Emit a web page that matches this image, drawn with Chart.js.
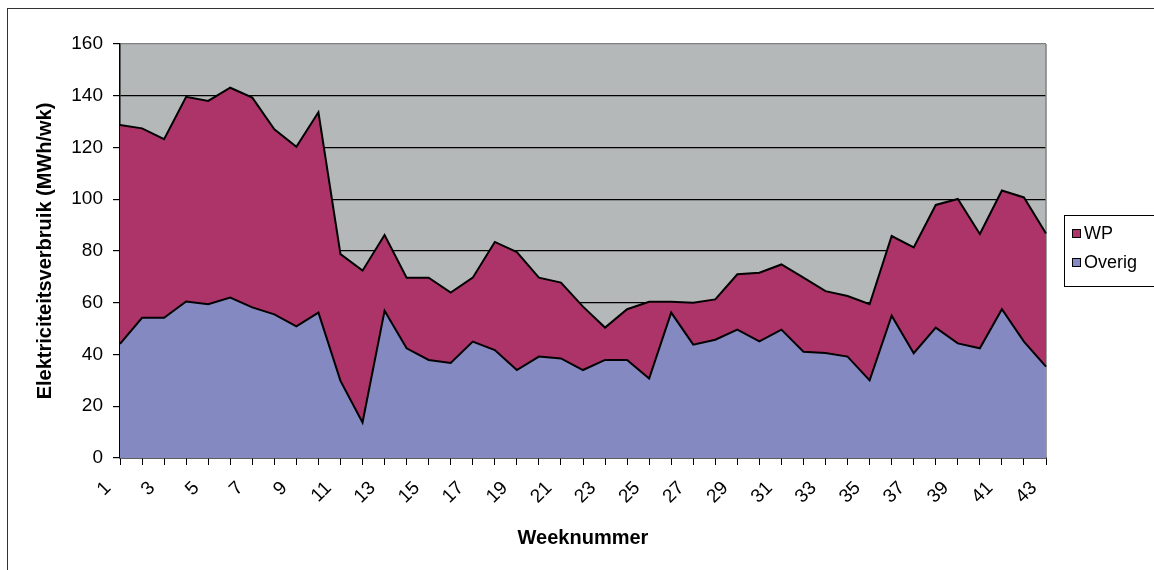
<!DOCTYPE html>
<html>
<head>
<meta charset="utf-8">
<script src="https://cdn.jsdelivr.net/npm/chart.js@4.4.1/dist/chart.umd.min.js"></script>
<style>
  html, body { margin: 0; padding: 0; background: #fff; }
  #myChart { display: block; }
</style>
</head>
<body>
<canvas id="myChart" width="1154" height="570"></canvas>
<script>
/* DATA */

const weeks = [];
for (let w = 1; w <= 43; w++) weeks.push(String(w));

const overig = [44.1, 54.2, 54.2, 60.5, 59.4, 62.0, 58.2, 55.5, 50.9, 56.2,
  29.8, 13.7, 56.9, 42.4, 37.9, 36.7, 45.0, 41.7, 34.0, 39.2,
  38.5, 34.0, 37.9, 37.9, 30.7, 56.2, 43.8, 45.7, 49.6, 45.1,
  49.6, 41.1, 40.6, 39.2, 30.0, 55.0, 40.5, 50.4, 44.3, 42.4,
  57.5, 45.0, 35.3];

const wp = [84.6, 73.2, 69.0, 79.1, 78.6, 81.1, 81.1, 71.5, 69.4, 77.4,
  49.0, 58.7, 29.3, 27.3, 31.8, 27.2, 24.7, 41.8, 45.6, 30.5,
  29.3, 24.5, 12.5, 19.6, 29.7, 4.2, 16.2, 15.6, 21.4, 26.5,
  25.2, 28.6, 23.9, 23.4, 29.4, 30.8, 40.9, 47.4, 55.8, 44.2,
  45.9, 55.7, 51.5];

const yTicks = [0, 20, 40, 60, 80, 100, 120, 140, 160];

const FONT = "'Liberation Sans', Arial, sans-serif";

/* PLOT BACKGROUND, BORDERS AND LEGEND */

const decorations = {
  id: 'decorations',
  beforeDraw(chart) {
    const ctx = chart.ctx;
    const a = chart.chartArea;
    ctx.save();
    ctx.fillStyle = '#b4b8b8';
    ctx.fillRect(a.left, a.top, a.right - a.left, a.bottom - a.top);
    // outer chart border
    ctx.strokeStyle = '#333';
    ctx.lineWidth = 1;
    ctx.strokeRect(7.5, 8.5, 1300, 700);
    ctx.restore();
  },
  beforeDatasetsDraw(chart) {
    const ctx = chart.ctx;
    const a = chart.chartArea;
    ctx.save();
    ctx.strokeStyle = '#808080';
    ctx.lineWidth = 1.5;
    ctx.beginPath();
    ctx.moveTo(a.right, a.top);
    ctx.lineTo(a.right, a.bottom);
    ctx.stroke();
    ctx.restore();
  },
  afterDraw(chart) {
    const ctx = chart.ctx;
    ctx.save();
    ctx.strokeStyle = '#000';
    ctx.lineWidth = 1;
    ctx.strokeRect(1064.5, 215.5, 200, 71);
    const items = chart.data.datasets.slice().reverse();
    ctx.font = '18px ' + FONT;
    ctx.textBaseline = 'middle';
    items.forEach((ds, i) => {
      const cy = 233 + i * 29;
      ctx.fillStyle = ds.backgroundColor;
      ctx.fillRect(1072, cy - 4, 8, 8);
      ctx.strokeRect(1072.5, cy - 3.5, 8, 8);
      ctx.fillStyle = '#000';
      ctx.fillText(ds.label, 1084, cy + 1);
    });
    ctx.restore();
  }
};

/* CREATE CHART */

function printChart() {
  const ctx = document.getElementById('myChart').getContext('2d');
  return new Chart(ctx, {
    type: 'line',
    data: {
      labels: weeks,
      datasets: [{
        label: 'Overig',
        data: overig,
        backgroundColor: '#8489c1',
        borderColor: '#000',
        borderWidth: 2,
        fill: 'origin',
        pointRadius: 0,
        tension: 0
      }, {
        label: 'WP',
        data: wp,
        backgroundColor: '#ad3468',
        borderColor: '#000',
        borderWidth: 2,
        fill: '-1',
        pointRadius: 0,
        tension: 0
      }]
    },
    options: {
      responsive: false,
      animation: false,
      devicePixelRatio: 1,
      layout: { padding: { top: 44, right: 108, left: 0, bottom: 0 } },
      plugins: {
        legend: { display: false },
        tooltip: { enabled: false }
      },
      scales: {
        x: {
          offset: false,
          afterFit(scale) { scale.height = 112; },
          border: { display: true, color: '#000', width: 1.5 },
          grid: { drawOnChartArea: false, drawTicks: true, tickLength: 7, color: '#000', tickColor: '#000' },
          ticks: {
            autoSkip: false,
            minRotation: 45,
            maxRotation: 45,
            padding: 12,
            labelOffset: -12,
            color: '#000',
            font: { family: FONT, size: 19 },
            callback: function (val, i) { return i % 2 === 0 ? weeks[i] : ''; }
          },
          title: {
            display: true,
            text: 'Weeknummer',
            color: '#000',
            font: { family: FONT, size: 20, weight: 'bold' },
            padding: { top: 0, bottom: 20 }
          }
        },
        y: {
          stacked: true,
          min: 0,
          max: 160,
          afterFit(scale) { scale.width = 120; },
          afterBuildTicks(scale) { scale.ticks = yTicks.map(v => ({ value: v })); },
          border: { display: true, color: '#000', width: 1.5 },
          grid: {
            color: ctx => (ctx.tick && ctx.tick.value === 160 ? '#808080' : '#000'),
            tickColor: '#000',
            lineWidth: 1.2,
            tickLength: 7
          },
          ticks: {
            padding: 10,
            color: '#000',
            font: { family: FONT, size: 19 }
          },
          title: {
            display: true,
            text: 'Elektriciteitsverbruik (MWh/wk)',
            color: '#000',
            font: { family: FONT, size: 20, weight: 'bold' },
            padding: { top: 33, bottom: 0 }
          }
        }
      }
    },
    plugins: [decorations]
  });
}

printChart();
</script>
</body>
</html>
